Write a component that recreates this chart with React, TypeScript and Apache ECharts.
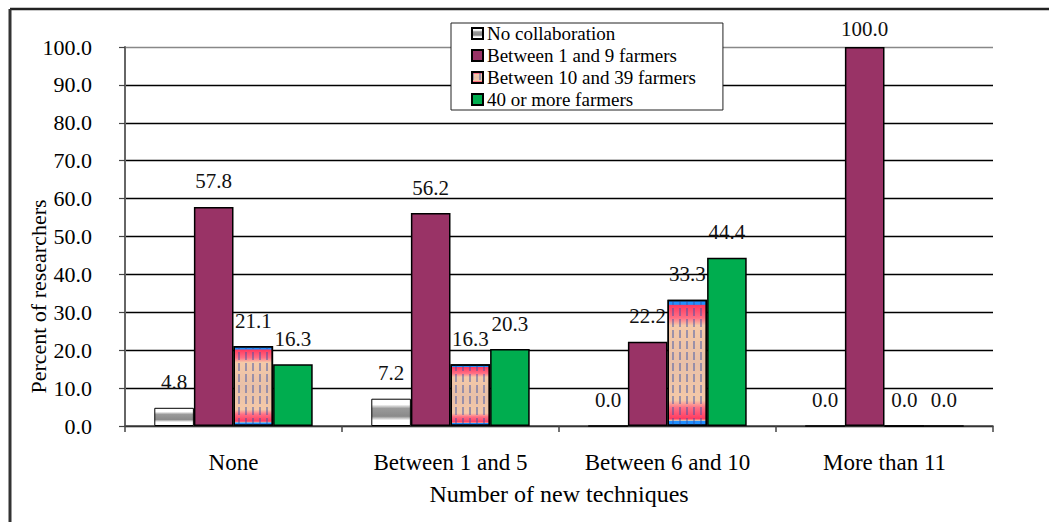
import React, { useEffect, useRef } from "react";
import * as echarts from "echarts";

const categories = ["None", "Between 1 and 5", "Between 6 and 10", "More than 11"];
const seriesNames = [
  "No collaboration",
  "Between 1 and 9 farmers",
  "Between 10 and 39 farmers",
  "40 or more farmers",
];
const noCollaboration = [4.8, 7.2, 0.0, 0.0];
const between1and9 = [57.8, 56.2, 22.2, 100.0];
const between10and39 = [21.1, 16.3, 33.3, 0.0];
const fortyOrMore = [16.3, 20.3, 44.4, 0.0];
const yTicks = [0, 10, 20, 30, 40, 50, 60, 70, 80, 90, 100];

const FONT = "'Liberation Serif', 'DejaVu Serif', serif";

export default function App() {
  const ref = useRef<HTMLDivElement>(null);
  useEffect(() => {
    document.body.style.margin = "0";
    if (!ref.current) return;
    const chart = echarts.init(ref.current, undefined, { renderer: "svg" });

    const grayPattern = new echarts.graphic.LinearGradient(0, 0, 0, 1, [
      { offset: 0, color: "#ffffff" },
      { offset: 0.2, color: "#ffffff" },
      { offset: 0.35, color: "#9a9a9a" },
      { offset: 0.65, color: "#8a8a8a" },
      { offset: 0.8, color: "#ffffff" },
      { offset: 1, color: "#ffffff" },
    ]);
    const pinkPattern = new echarts.graphic.LinearGradient(0, 0, 0, 1, [
      { offset: 0, color: "#1f8fff" },
      { offset: 0.03, color: "#1f8fff" },
      { offset: 0.04, color: "#ff3a60" },
      { offset: 0.14, color: "#ff6f85" },
      { offset: 0.2, color: "#f5c9a8" },
      { offset: 0.5, color: "#e8c0a8" },
      { offset: 0.8, color: "#f5c9a8" },
      { offset: 0.86, color: "#ff6f85" },
      { offset: 0.95, color: "#ff3a60" },
      { offset: 0.96, color: "#f5c9a8" },
      { offset: 0.97, color: "#1f8fff" },
      { offset: 1, color: "#1f8fff" },
    ]);

    const labelCfg = {
      show: true,
      position: "top" as const,
      distance: 15,
      fontFamily: FONT,
      fontSize: 21,
      color: "#111",
      formatter: (p: any) => Number(p.value).toFixed(1),
    };

    const mk = (vals: number[]) =>
      vals.map((v) => (v >= 100 ? { value: v, label: { distance: 8 } } : v));

    const splitColors = yTicks.map((t) => (t === 100 ? "#888" : "#000"));

    chart.setOption({
      animation: false,
      backgroundColor: "#fff",
      textStyle: { fontFamily: FONT },
      grid: { left: 125, right: 56, top: 47, bottom: 96 },
      legend: {
        orient: "vertical",
        left: 451,
        top: 23,
        data: seriesNames,
        backgroundColor: "#fff",
        borderColor: "#222",
        borderWidth: 1,
        padding: [1, 27, 1, 20],
        itemGap: 3,
        itemWidth: 11,
        itemHeight: 11,
        icon: "rect",
        textStyle: { fontFamily: FONT, fontSize: 19, color: "#000", padding: [0, 0, 0, -1] },
      },
      xAxis: {
        type: "category",
        data: categories,
        name: "Number of new techniques",
        nameLocation: "middle",
        nameGap: 56,
        nameMoveOverlap: false,
        nameTextStyle: { fontFamily: FONT, fontSize: 24, color: "#000" },
        axisLine: { lineStyle: { color: "#444", width: 1.5 } },
        axisTick: { show: true, length: 6, lineStyle: { color: "#444", width: 1.5 } },
        axisLabel: { fontFamily: FONT, fontSize: 23, color: "#000", margin: 25 },
      },
      yAxis: {
        type: "value",
        min: 0,
        max: 100,
        interval: 10,
        name: "Percent of researchers",
        nameLocation: "middle",
        nameGap: 76,
        nameMoveOverlap: false,
        nameTextStyle: {
          fontFamily: FONT,
          fontSize: 22,
          color: "#000",
          padding: [0, 120, 0, 0],
        },
        axisLine: { show: true, lineStyle: { color: "#666", width: 2 } },
        axisTick: { show: true, length: 6, lineStyle: { color: "#444", width: 1.2 } },
        axisLabel: {
          fontFamily: FONT,
          fontSize: 22,
          color: "#000",
          margin: 33,
          formatter: (v: number) => v.toFixed(1),
        },
        splitLine: { show: true, lineStyle: { color: splitColors, width: 1.4 } },
      },
      series: [
        {
          name: seriesNames[0],
          type: "bar",
          data: mk(noCollaboration),
          barGap: "0%",
          barCategoryGap: "27%",
          itemStyle: { color: grayPattern, borderColor: "#000", borderWidth: 1 },
          label: labelCfg,
        },
        {
          name: seriesNames[1],
          type: "bar",
          data: mk(between1and9),
          itemStyle: { color: "#993366", borderColor: "#000", borderWidth: 1.5 },
          label: labelCfg,
        },
        {
          name: seriesNames[2],
          type: "bar",
          data: mk(between10and39),
          itemStyle: {
            color: pinkPattern,
            borderColor: "#000",
            borderWidth: 1.5,
            decal: {
              symbol: "rect",
              symbolSize: 1,
              dashArrayX: [2, 5],
              dashArrayY: [8, 3],
              rotation: 0,
              color: "rgba(50,80,170,0.45)",
            },
          },
          label: labelCfg,
        },
        {
          name: seriesNames[3],
          type: "bar",
          data: mk(fortyOrMore),
          itemStyle: { color: "#00ad4f", borderColor: "#000", borderWidth: 1.5 },
          label: labelCfg,
        },
      ],
      graphic: [
        {
          type: "line",
          shape: { x1: 10, y1: 9, x2: 1049, y2: 9 },
          style: { stroke: "#222", lineWidth: 2.5 },
          silent: true,
        },
        {
          type: "line",
          shape: { x1: 10, y1: 9, x2: 10, y2: 522 },
          style: { stroke: "#333", lineWidth: 3 },
          silent: true,
        },
      ],
    });
    return () => chart.dispose();
  }, []);
  return <div ref={ref} style={{ width: 1049, height: 522 }} />;
}
